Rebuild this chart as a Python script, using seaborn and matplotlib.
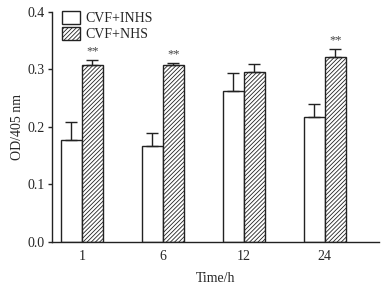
import numpy as np
import pandas as pd
import seaborn as sns
import matplotlib.pyplot as plt
from matplotlib.patches import Patch

# 数据
times = ['1', '6', '12', '24']
groups = ['CVF+INHS', 'CVF+NHS']
inhs_mean = [0.177, 0.167, 0.262, 0.217]
inhs_err = [0.032, 0.023, 0.031, 0.023]
nhs_mean = [0.307, 0.308, 0.295, 0.322]
nhs_err = [0.010, 0.004, 0.015, 0.014]
stars = ['**', '**', '', '**']

df = pd.DataFrame({
    'time': times * 2,
    'od': inhs_mean + nhs_mean,
    'group': [groups[0]] * 4 + [groups[1]] * 4,
})

sns.set_style('ticks')
plt.rcParams['font.family'] = ['Liberation Serif', 'DejaVu Serif']
plt.rcParams['hatch.linewidth'] = 0.6
plt.rcParams['hatch.color'] = '#555555'

fig = plt.figure(figsize=(3.88, 2.85), dpi=100)
ax = fig.add_axes([0.134, 0.151, 0.843, 0.807])

sns.barplot(x='time', y='od', hue='group', data=df, order=times, hue_order=groups,
            palette=['white', 'white'], edgecolor='#222222', linewidth=1.0,
            width=0.52, errorbar=None, legend=False, ax=ax)

bars = ax.patches[:8]
for i, p in enumerate(bars):
    if i >= 4:
        p.set_hatch('////////')

# 误差线(只向上)和显著性标记
means = inhs_mean + nhs_mean
errs = inhs_err + nhs_err
for i, p in enumerate(bars):
    xc = p.get_x() + p.get_width() / 2
    ax.errorbar(xc, means[i], yerr=[[0], [errs[i]]], fmt='none', ecolor='#222222',
                elinewidth=1.0, capsize=4, capthick=1.0)
    if i >= 4 and stars[i - 4]:
        ax.text(xc, means[i] + errs[i] + 0.004, stars[i - 4], ha='center', va='bottom',
                fontsize=9, color='#444444')

ax.set_xlim(-0.37, 3.67)
ax.set_ylim(0, 0.4)
ax.set_yticks([0.0, 0.1, 0.2, 0.3, 0.4])
ax.set_yticklabels(['0.0', '0.1', '0.2', '0.3', '0.4'])
ax.tick_params(axis='y', length=3, width=1, labelsize=10, pad=2)
ax.tick_params(axis='x', length=0, labelsize=10, pad=6)
ax.set_xlabel('Time/h', fontsize=10, labelpad=6)
ax.set_ylabel('OD/405 nm', fontsize=10, labelpad=3)
for s in ['top', 'right']:
    ax.spines[s].set_visible(False)
for s in ['left', 'bottom']:
    ax.spines[s].set_linewidth(1.0)
    ax.spines[s].set_color('#222222')

handles = [Patch(facecolor='white', edgecolor='#222222', label=groups[0]),
           Patch(facecolor='white', edgecolor='#222222', hatch='////////', label=groups[1])]
ax.legend(handles=handles, loc='upper left', bbox_to_anchor=(0.005, 1.04), frameon=False,
          fontsize=10, handlelength=1.3, handleheight=1.0, handletextpad=0.4,
          labelspacing=0.15, borderaxespad=0.2)

fig.savefig('out.png', dpi=100)
